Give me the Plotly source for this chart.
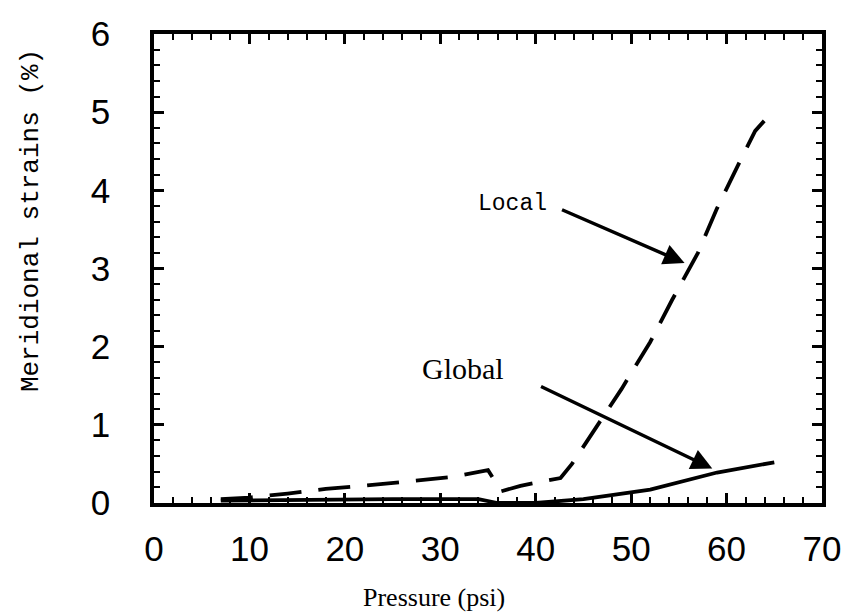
import plotly.graph_objects as go

# Data
local_x = [7, 10, 14, 18, 22, 27, 31, 35, 36.4, 38.4, 42.6, 43.8, 46, 49, 52, 54.3, 57, 59, 61.4, 63, 64.4]
local_y = [0.05, 0.07, 0.12, 0.18, 0.22, 0.28, 0.33, 0.42, 0.15, 0.22, 0.32, 0.5, 0.9, 1.46, 2.06, 2.6, 3.2, 3.77, 4.37, 4.76, 4.95]

global_x = [7, 15, 25, 34, 36, 40, 45, 52, 59, 65]
global_y = [0.03, 0.04, 0.05, 0.05, 0.0, 0.0, 0.05, 0.17, 0.39, 0.52]

x_ticks = [0, 10, 20, 30, 40, 50, 60, 70]
y_ticks = [0, 1, 2, 3, 4, 5, 6]

W, H = 853, 616
L, R, T, B = 154, 25, 34, 113
pw, ph = W - L - R, H - T - B

def px(x):
    return (x - L) / pw

def py(y):
    return (H - B - y) / ph

fig = go.Figure()
fig.add_trace(go.Scatter(x=local_x, y=local_y, mode="lines",
                         line=dict(color="black", width=3.8, dash="32px,17px"),
                         showlegend=False))
fig.add_trace(go.Scatter(x=global_x, y=global_y, mode="lines",
                         line=dict(color="black", width=3.8),
                         showlegend=False))

axis_common = dict(showline=True, linecolor="black", linewidth=3.5, mirror="ticks",
                   ticks="inside", ticklen=10, tickwidth=2.8, tickcolor="black",
                   showgrid=False, zeroline=False,
                   tickfont=dict(family="Liberation Sans", size=35, color="black"))

fig.update_xaxes(range=[0, 70], tickvals=x_ticks, ticktext=[str(v) for v in x_ticks],
                 minor=dict(dtick=2, ticks="inside", ticklen=6, tickwidth=2.2, tickcolor="black"),
                 ticklabelstandoff=12, **axis_common)
fig.update_yaxes(range=[0, 6], tickvals=y_ticks, ticktext=[str(v) for v in y_ticks],
                 minor=dict(dtick=0.2, ticks="inside", ticklen=6, tickwidth=2.2, tickcolor="black"),
                 ticklabelstandoff=33, **axis_common)

annotations = [
    dict(text="Meridional strains (%)", xref="paper", yref="paper",
         x=px(30), y=py(221), xanchor="center", yanchor="middle",
         textangle=-90, showarrow=False,
         font=dict(family="Liberation Mono", size=26, color="black")),
    dict(text="Pressure (psi)", xref="paper", yref="paper",
         x=px(437), y=py(597), xanchor="center", yanchor="middle", showarrow=False,
         font=dict(family="Liberation Serif", size=26, color="black")),
    dict(text="Local", x=37.6, y=3.82, xref="x", yref="y", showarrow=False,
         xanchor="center", yanchor="middle",
         font=dict(family="Liberation Mono", size=23, color="black")),
    dict(text="", x=55.6, y=3.07, ax=42.6, ay=3.76, xref="x", yref="y",
         axref="x", ayref="y", showarrow=True, arrowhead=2, arrowsize=1.2,
         arrowwidth=3.5, arrowcolor="black"),
    dict(text="Global", x=32.4, y=1.72, xref="x", yref="y", showarrow=False,
         xanchor="center", yanchor="middle",
         font=dict(family="Liberation Serif", size=30, color="black")),
    dict(text="", x=58.5, y=0.44, ax=40.4, ay=1.5, xref="x", yref="y",
         axref="x", ayref="y", showarrow=True, arrowhead=2, arrowsize=1.2,
         arrowwidth=3.5, arrowcolor="black"),
]

fig.update_layout(width=W, height=H, margin=dict(l=L, r=R, t=T, b=B),
                  paper_bgcolor="white", plot_bgcolor="white",
                  annotations=annotations)

fig.write_html("out.html",
               config={"displayModeBar": False},
               post_script="document.body.style.margin='0px';"
                           "document.body.style.padding='0px';"
                           "document.body.style.overflow='hidden';")
